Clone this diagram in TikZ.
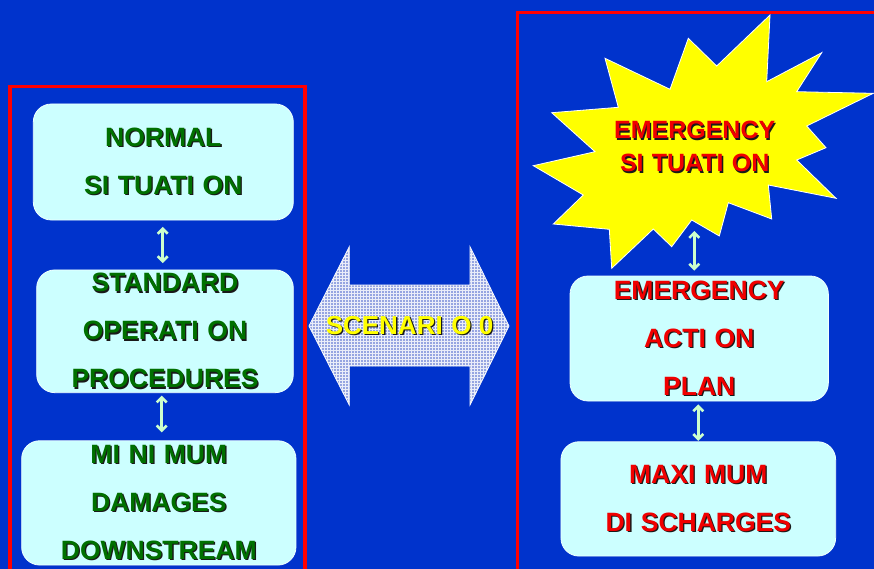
\documentclass[tikz,border=0pt]{standalone}
\usepackage{fontspec}
\setmainfont{Liberation Sans}
\usetikzlibrary{arrows.meta,patterns}
\definecolor{bg}{RGB}{0,51,204}
\definecolor{boxc}{RGB}{204,255,255}
\definecolor{grn}{RGB}{0,112,0}
\definecolor{redt}{RGB}{240,0,0}
\definecolor{arr}{RGB}{204,255,204}
\definecolor{framec}{RGB}{255,0,0}
\definecolor{ylw}{RGB}{255,255,0}
\definecolor{scfill}{RGB}{150,165,225}
\definecolor{shad}{RGB}{25,25,25}
\newcommand\sh[1]{\leavevmode\rlap{\kern1.3pt\raisebox{-1.3pt}{\color{shad}#1}}#1}
\newcommand\Ik{I\kern0.33em}
\tikzset{
  panel/.style={draw=white!70!boxc, line width=0.8pt, fill=boxc, rounded corners=18pt,
    inner sep=0pt, align=center, font=\bfseries\fontsize{26.5}{48}\selectfont},
  gpanel/.style={panel, text=grn},
  rpanel/.style={panel, text=redt},
  link/.style={draw=arr, line width=2.6pt,
    {Straight Barb[length=5pt,width=10pt]}-{Straight Barb[length=5pt,width=10pt]}},
  redframe/.style={draw=framec, line width=3.5pt},
}
\begin{document}
\begin{tikzpicture}[x=1pt,y=-1pt]
\useasboundingbox (0,0) rectangle (874,569);
\fill[bg] (0,0) rectangle (874,569);
% red frames
\draw[redframe] (10,86.7) rectangle (305,580);
\draw[redframe] (517.5,12.5) rectangle (890,580);
% left column
\node[gpanel, minimum width=260pt, minimum height=116pt] (b1) at (163.3,162)
  {\sh{NORMAL}\\\sh{S\Ik TUAT\Ik ON}};
\node[gpanel, minimum width=256.6pt, minimum height=122.7pt] (b2) at (165,331.3)
  {\sh{STANDARD}\\\sh{OPERAT\Ik ON}\\\sh{PROCEDURES}};
\node[gpanel, minimum width=274.3pt, minimum height=124.3pt] (b3) at (158.8,502.9)
  {\sh{M\Ik N\Ik MUM}\\\sh{DAMAGES}\\\sh{DOWNSTREAM}};
\draw[link, shorten <=6.5pt, shorten >=6.5pt] ([xshift=-0.6pt]b1.south) -- ([xshift=-0.6pt]b1.south |- b2.north);
\draw[link, shorten <=2.5pt, shorten >=8pt] ([xshift=-3.3pt]b2.south) -- ([xshift=-3.3pt]b2.south |- b3.north);
% scenario arrow
\path[fill=scfill, draw=white, line width=0.8pt, postaction={pattern=grid, pattern color=white!80!scfill}]
  (309,326) -- (349.3,246.7) -- (349.3,285) -- (470,285) -- (470,246.7) -- (509,326)
  -- (470,405) -- (470,366) -- (349.3,366) -- (349.3,405) -- cycle;
\node[text=ylw, font=\bfseries\fontsize{26}{30}\selectfont, inner sep=0pt] (scen) at (409.5,326)
  {\sh{SCENAR\Ik O 0}};
% burst
\path[fill=ylw, draw=white, line width=0.8pt]
  (770,15) -- (766.7,81.7) -- (821.7,52.7) -- (796.7,91.7) -- (873.3,93.3) -- (806.7,126)
  -- (826,147.7) -- (796.7,160) -- (836,198.3) -- (768.3,185) -- (771.7,219) -- (728.3,202.7)
  -- (719.3,236) -- (691.7,220) -- (671.7,246.7) -- (653.3,229) -- (611.7,268.3) -- (609.3,229.3)
  -- (553.3,224) -- (583.3,195) -- (533.3,165.7) -- (595,151.7) -- (551.7,112.7) -- (618.3,107.3)
  -- (605,58.3) -- (670,89.3) -- (688.3,38.3) -- (716.7,66) -- cycle;
\node[text=redt, align=center, font=\bfseries\fontsize{25}{33}\selectfont, inner sep=0pt] (bt) at (694.7,147.4)
  {\sh{EMERGENCY}\\\sh{S\Ik TUAT\Ik ON}};
\coordinate (burstbase) at (694.3,231);
% right column
\node[rpanel, minimum width=258.3pt, minimum height=125pt] (r1) at (699.2,338.5)
  {\sh{EMERGENCY}\\\sh{ACT\Ik ON}\\\sh{PLAN}};
\node[rpanel, minimum width=274.7pt, minimum height=114.3pt] (r2) at (698.3,498.9)
  {\sh{MAX\Ik MUM}\\\sh{D\Ik SCHARGES}};
\draw[link, shorten >=5pt] (burstbase) -- (burstbase |- r1.north);
\draw[link, shorten <=3pt, shorten >=0.5pt] ([xshift=-0.9pt]r1.south) -- ([xshift=-0.9pt]r1.south |- r2.north);
\end{tikzpicture}
\end{document}
